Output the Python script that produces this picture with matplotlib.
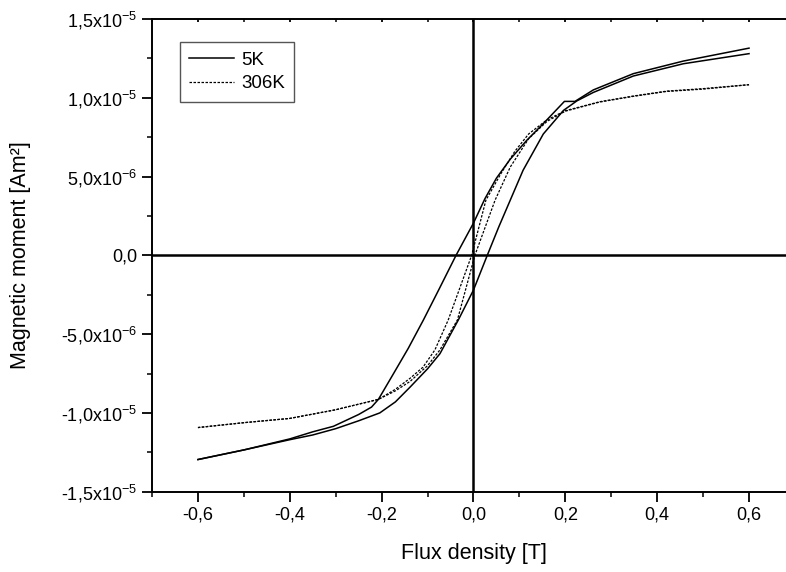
import numpy as np
import matplotlib
matplotlib.use("Agg")
import matplotlib.pyplot as plt
from matplotlib.lines import TICKDOWN

plt.rcParams['font.family'] = ['Liberation Sans', 'DejaVu Sans']
plt.rcParams['mathtext.fontset'] = 'custom'
plt.rcParams['mathtext.rm'] = 'Liberation Sans'
plt.rcParams['mathtext.it'] = 'Liberation Sans'
plt.rcParams['mathtext.default'] = 'rm'

# 5K loop, descending field branch (B in T, moment in 1e-5 Am2)
b_5k_down = [0.6, 0.457, 0.348, 0.261, 0.221, 0.198, 0.152, 0.116, 0.08, 0.05,
             0.025, 0.0, -0.038, -0.075, -0.109, -0.142, -0.175, -0.207, -0.222,
             -0.25, -0.305, -0.35, -0.4, -0.5, -0.6]
m_5k_down = [1.315, 1.233, 1.153, 1.05, 0.977, 0.977, 0.836, 0.73, 0.61, 0.49,
             0.36, 0.205, 0.0, -0.215, -0.41, -0.59, -0.755, -0.914, -0.963,
             -1.01, -1.085, -1.12, -1.165, -1.235, -1.296]
# 5K loop, ascending field branch
b_5k_up = [-0.6, -0.5, -0.4, -0.35, -0.3, -0.25, -0.204, -0.17, -0.138, -0.1,
           -0.073, -0.033, 0.0, 0.03, 0.055, 0.108, 0.152, 0.196, 0.225, 0.261,
           0.348, 0.457, 0.6]
m_5k_up = [-1.296, -1.235, -1.17, -1.14, -1.1, -1.05, -1.0, -0.93, -0.836, -0.72,
           -0.624, -0.41, -0.22, 0.0, 0.18, 0.54, 0.77, 0.92, 0.98, 1.034,
           1.138, 1.216, 1.28]

# 306K loop
b_306_down = [0.6, 0.5, 0.42, 0.35, 0.275, 0.2, 0.16, 0.12, 0.09, 0.06, 0.027,
              -0.004, -0.055, -0.084, -0.11, -0.138, -0.17, -0.207, -0.3, -0.4,
              -0.5, -0.6]
m_306_down = [1.083, 1.058, 1.042, 1.012, 0.975, 0.918, 0.86, 0.77, 0.66, 0.52, 0.35,
              0.0, -0.41, -0.60, -0.71, -0.78, -0.85, -0.914, -0.98, -1.035,
              -1.062, -1.093]
b_306_up = [-0.6, -0.5, -0.4, -0.3, -0.207, -0.17, -0.138, -0.1, -0.073, -0.035,
            0.003, 0.047, 0.08, 0.12, 0.16, 0.2, 0.275, 0.35, 0.42, 0.5, 0.6]
m_306_up = [-1.093, -1.062, -1.035, -0.98, -0.914, -0.86, -0.80, -0.70, -0.60, -0.41,
            0.0, 0.35, 0.56, 0.74, 0.85, 0.915, 0.973, 1.01, 1.04, 1.055, 1.083]

x_ticks = [-0.6, -0.4, -0.2, 0.0, 0.2, 0.4, 0.6]
x_labels = ['-0,6', '-0,4', '-0,2', '0,0', '0,2', '0,4', '0,6']
y_ticks = [-1.5e-5, -1.0e-5, -5e-6, 0.0, 5e-6, 1.0e-5, 1.5e-5]
y_labels = ['-1,5x10$^{-5}$', '-1,0x10$^{-5}$', '-5,0x10$^{-6}$', '0,0',
            '5,0x10$^{-6}$', '1,0x10$^{-5}$', '1,5x10$^{-5}$']

fig = plt.figure(figsize=(7.86, 5.72), dpi=100)
ax = fig.add_axes([0.1934, 0.1404, 0.818, 0.8264])

ax.axhline(0, color='black', lw=1.8, zorder=1)
ax.axvline(0, color='black', lw=1.8, zorder=1)

ax.plot(b_5k_down, np.array(m_5k_down) * 1e-5, color='black', lw=1.1, label='5K')
ax.plot(b_5k_up, np.array(m_5k_up) * 1e-5, color='black', lw=1.1)
ax.plot(b_306_down, np.array(m_306_down) * 1e-5, color='black', lw=0.9,
        linestyle=(0, (2, 1.2)), label='306K')
ax.plot(b_306_up, np.array(m_306_up) * 1e-5, color='black', lw=0.9,
        linestyle=(0, (2, 1.2)))

ax.set_xlim(-0.7, 0.7)
ax.set_ylim(-1.5e-5, 1.5e-5)
ax.set_xticks(x_ticks)
ax.set_xticklabels(x_labels)
ax.set_yticks(y_ticks)
ax.set_yticklabels(y_labels)
ax.set_xticks(np.arange(-0.7, 0.71, 0.1), minor=True)
ax.set_yticks(np.arange(-1.5e-5, 1.51e-5, 2.5e-6), minor=True)

ax.tick_params(which='major', direction='out', length=7, width=1.3, labelsize=13)
ax.tick_params(which='minor', direction='out', length=3.6, width=1.1)
ax.tick_params(axis='x', which='both', top=True)
# top ticks point inward, small
for t in ax.xaxis.get_ticklines(minor=False)[1::2] + ax.xaxis.get_ticklines(minor=True)[1::2]:
    t.set_marker(TICKDOWN)
    t.set_markersize(2.5)
for s in ax.spines.values():
    s.set_linewidth(1.4)

ax.set_xlabel('Flux density [T]', fontsize=15.5, labelpad=14)
ax.set_ylabel('Magnetic moment [Am²]', fontsize=15.5, labelpad=22)

leg = ax.legend(loc='upper left', bbox_to_anchor=(0.0435, 0.951), borderaxespad=0,
                fontsize=13.5, fancybox=False, framealpha=1, edgecolor='#555555',
                handlelength=2.4, handletextpad=0.35, borderpad=0.5,
                labelspacing=0.35)
leg.get_frame().set_linewidth(1.0)

fig.savefig('out.png', dpi=100)
